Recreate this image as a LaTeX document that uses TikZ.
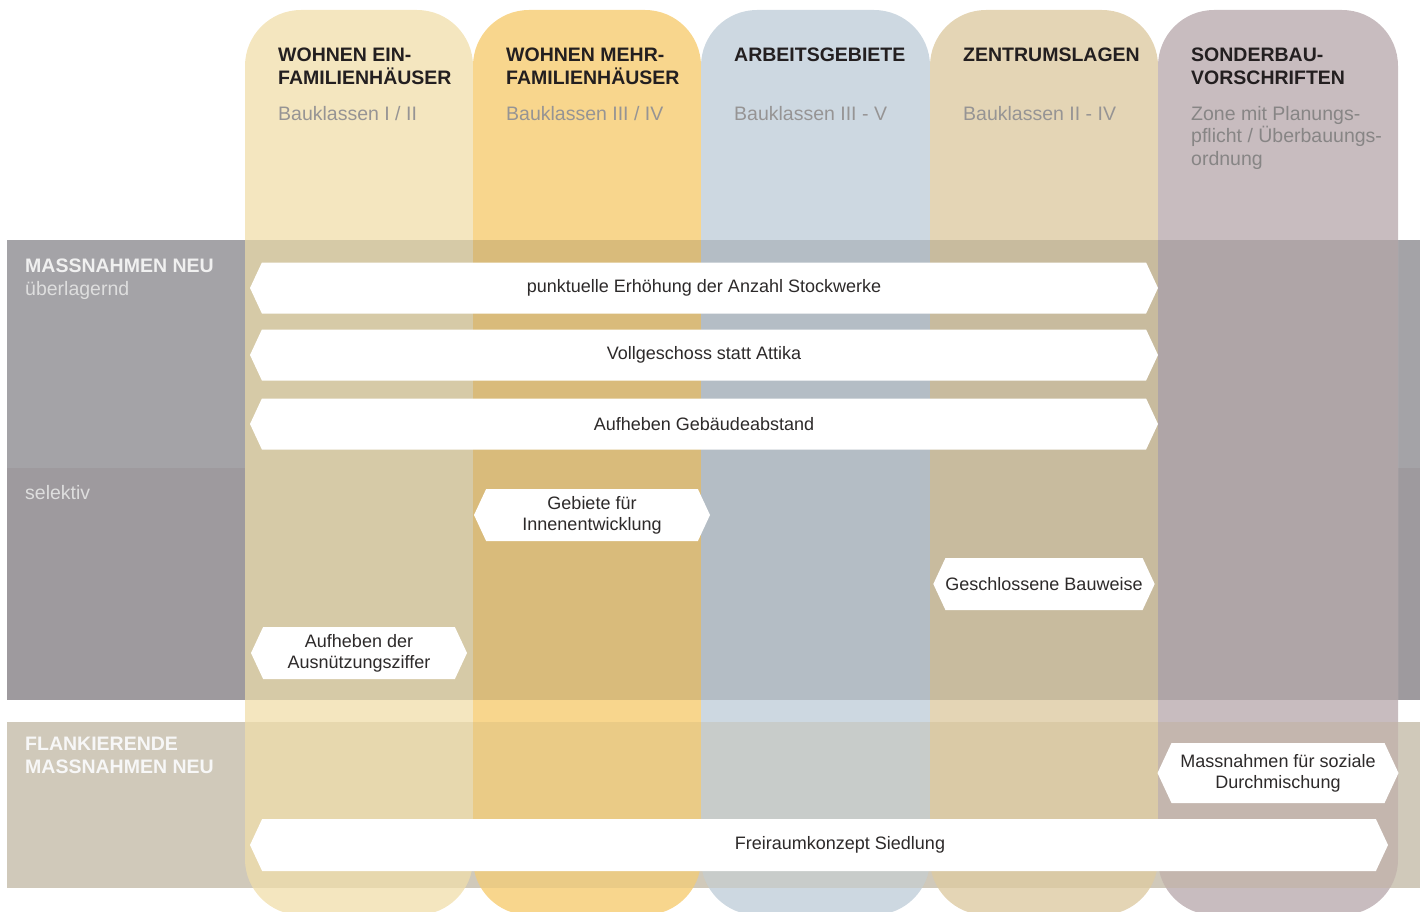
\documentclass[tikz,border=0pt]{standalone}
\usepackage{fontspec}
\setmainfont{Liberation Sans}
\usetikzlibrary{shapes.symbols}

\definecolor{colA}{RGB}{244,230,191}
\definecolor{colB}{RGB}{248,214,141}
\definecolor{colC}{RGB}{205,216,225}
\definecolor{colD}{RGB}{228,213,181}
\definecolor{colE}{RGB}{200,188,191}
\definecolor{bandA}{RGB}{164,163,167}
\definecolor{bandB}{RGB}{158,154,158}
\definecolor{bandC}{RGB}{208,201,186}
\definecolor{headtext}{RGB}{35,31,32}
\definecolor{subtext}{RGB}{150,148,148}
\definecolor{boxtext}{RGB}{45,42,42}
\definecolor{tint}{RGB}{180,160,110}

\begin{document}
\begin{tikzpicture}[x=1pt,y=-1pt]
      \tikzset{column/.style={fill=#1, rounded corners=56pt},
        head/.style={anchor=north west, inner sep=0pt, align=left,
          text=headtext, font=\fontsize{19.5}{23}\selectfont\bfseries},
        sub/.style={anchor=north west, inner sep=0pt, align=left,
          text=subtext, font=\fontsize{19.5}{22.5}\selectfont},
        rowhead/.style={anchor=north west, inner sep=0pt, align=left,
          text=white!94!black, font=\fontsize{19.5}{23}\selectfont\bfseries},
        rowsub/.style={anchor=north west, inner sep=0pt, align=left,
          text=white!87!black, font=\fontsize{19.5}{22}\selectfont},
        measure/.style={signal, signal to=east and west,
          signal pointer angle=130, fill=white, inner sep=0pt,
          align=center, text=boxtext, font=\fontsize{18}{21}\selectfont}
      }
      \useasboundingbox (0,0) rectangle (1426,912);
      \clip (0,0) rectangle (1426,912);

      % bands
      \fill [bandA] (7,240) rectangle (1420,468);
      \fill [bandB] (7,468) rectangle (1420,700);
      \fill [bandC] (7,722) rectangle (1420,888);

      % columns
      \foreach \x/\w/\c in {245/228/colA, 473/228/colB, 701/229/colC,
          930/228/colD, 1158/240/colE}
        \fill [column=\c] (\x,10) rectangle ++(\w,905);

      \begin{scope}
        \clip [rounded corners=56pt] (245,10) rectangle (473,915)
          (473,10) rectangle (701,915) (701,10) rectangle (930,915)
          (930,10) rectangle (1158,915) (1158,10) rectangle (1398,915);
        \fill [black, fill opacity=0.12] (245,240) rectangle (1398,700);
        \fill [tint, fill opacity=0.2] (245,722) rectangle (1398,888);
      \end{scope}

      \node [head] (h1) at (278,48) {WOHNEN EIN-\\FAMILIENHÄUSER};
      \node [sub] (s1) at (278,106) {Bauklassen I / II};
      \node [head] (h2) at (506,48) {WOHNEN MEHR-\\FAMILIENHÄUSER};
      \node [sub] (s2) at (506,106) {Bauklassen III / IV};
      \node [head] (h3) at (734,48) {ARBEITSGEBIETE};
      \node [sub] (s3) at (734,106) {Bauklassen III - V};
      \node [head] (h4) at (963,48) {ZENTRUMSLAGEN};
      \node [sub] (s4) at (963,106) {Bauklassen II - IV};
      \node [head] (h5) at (1191,48) {SONDERBAU-\\VORSCHRIFTEN};
      \node [sub, text=subtext!90!black] (s5) at (1191,106)
        {Zone mit Planungs-\\pflicht / Überbauungs-\\ordnung};

      \node [rowhead] (r1) at (25,259) {MASSNAHMEN NEU};
      \node [rowsub] (r1s) at (25,281) {überlagernd};
      \node [rowsub] (r2) at (25,485) {selektiv};
      \node [rowhead, text=white!97!black] (r3) at (25,737)
        {FLANKIERENDE\\MASSNAHMEN NEU};

      \node [measure, minimum width=908pt, minimum height=51pt] (b1)
        at (704,288) {punktuelle Erhöhung der Anzahl Stockwerke};
      \node [measure, minimum width=908pt, minimum height=51pt] (b2)
        at (704,355) {Vollgeschoss statt Attika};
      \node [measure, minimum width=908pt, minimum height=51pt] (b3)
        at (704,424) {Aufheben Gebäudeabstand};
      \node [measure, minimum width=236pt, minimum height=52pt] (b4)
        at (592,515) {Gebiete für\\Innenentwicklung};
      \node [measure, minimum width=218pt, minimum height=52pt] (b5)
        at (1044,584) {Geschlossene Bauweise};
      \node [measure, minimum width=216pt, minimum height=52pt] (b6)
        at (359,653) {Aufheben der\\Ausnützungsziffer};
      \node [measure, minimum width=241pt, minimum height=60pt] (b7)
        at (1278,773) {Massnahmen für soziale\\Durchmischung};
      \node [measure, minimum width=1138pt, minimum height=52pt] (b8)
        at (819,845) {\hspace*{42pt}Freiraumkonzept Siedlung};
\end{tikzpicture}
\end{document}
